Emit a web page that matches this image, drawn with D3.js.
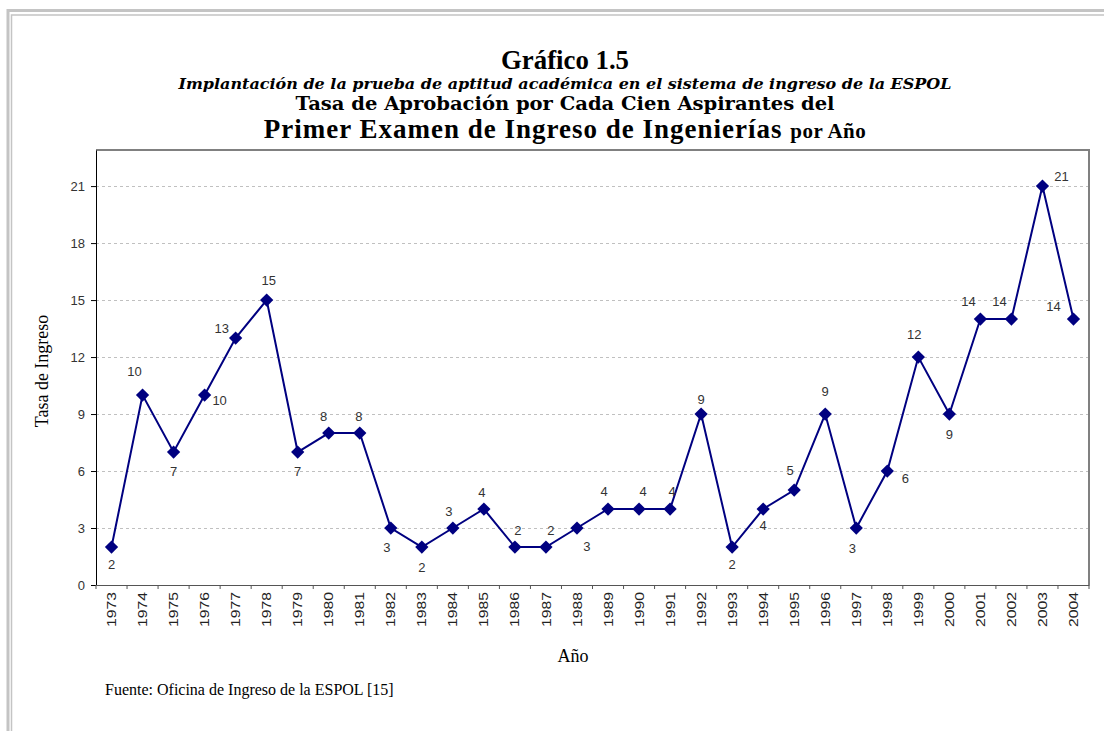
<!DOCTYPE html>
<html>
<head>
<meta charset="utf-8">
<script src="https://cdn.jsdelivr.net/npm/d3@7"></script>
<style>
  body { margin: 0; background: #fff; }
</style>
</head>
<body>
<div id="chart"></div>
<script>
// Data
const years = [1973, 1974, 1975, 1976, 1977, 1978, 1979, 1980, 1981, 1982, 1983,
               1984, 1985, 1986, 1987, 1988, 1989, 1990, 1991, 1992, 1993, 1994,
               1995, 1996, 1997, 1998, 1999, 2000, 2001, 2002, 2003, 2004];
const tasa = [2, 10, 7, 10, 13, 15, 7, 8, 8, 3, 2,
              3, 4, 2, 2, 3, 4, 4, 4, 9, 2, 4,
              5, 9, 3, 6, 12, 9, 14, 14, 21, 14];
const yTicks = [0, 3, 6, 9, 12, 15, 18, 21];

// where each value label sits relative to its marker (dx, dy in px)
const labelOffset = [[0,17],[-8,-24],[0,19],[15,5],[-14,-10],[2,-20],[0,19],[-5,-17],[-1,-17],[-4,19],[0,20],
                     [-4,-17],[-2,-17],[3,-17],[5,-17],[10,18],[-4,-18],[4,-18],[2,-18],[0,-15],[0,17],[0,16],
                     [-4,-20],[0,-23],[-4,20],[18,7],[-4,-23],[0,20],[-12,-18],[-12,-18],[19,-10],[-20,-13]];

const width = 1104;
const height = 731;
const marginLeft = 96;
const marginRight = 1089;
const marginTop = 150;
const plotBottom = 585;

const sans = "'Liberation Sans', Arial, sans-serif";
const serif = "'Liberation Serif', 'Times New Roman', serif";
const wideSerif = "'DejaVu Serif', Georgia, serif";

const svg = d3.create("svg")
    .attr("width", width)
    .attr("height", height)
    .attr("font-family", sans);

// outer page frame
svg.append("rect")
    .attr("x", 8).attr("y", 10.5)
    .attr("width", 1110).attr("height", 760)
    .attr("fill", "none").attr("stroke", "#c4c4c4").attr("stroke-width", 3);
svg.append("rect")
    .attr("x", 11.5).attr("y", 15)
    .attr("width", 1110).attr("height", 760)
    .attr("fill", "none").attr("stroke", "#c4c4c4").attr("stroke-width", 1.5);

// scales
const x = d3.scaleBand(years, [marginLeft, marginRight]).padding(0);
const y = d3.scaleLinear([0, 22.9], [plotBottom, marginTop]);

// grid
svg.append("g")
    .selectAll("line")
    .data(yTicks.filter(d => d > 0))
    .join("line")
    .attr("x1", marginLeft).attr("x2", marginRight)
    .attr("y1", d => Math.round(y(d)) + 0.5).attr("y2", d => Math.round(y(d)) + 0.5)
    .attr("stroke", "#c0c0c0")
    .attr("stroke-dasharray", "3,3");

// frame top / right
svg.append("path")
    .attr("d", `M${marginLeft},${marginTop} H${marginRight} V${plotBottom}`)
    .attr("fill", "none")
    .attr("stroke", "#808080")
    .attr("stroke-width", 2);

// y axis
const yAxis = svg.append("g")
    .attr("transform", `translate(${marginLeft},0)`)
    .call(d3.axisLeft(y).tickValues(yTicks).tickSize(5).tickPadding(6).tickSizeOuter(0));
yAxis.select(".domain").attr("stroke", "#000");
yAxis.selectAll(".tick text")
    .attr("font-size", 13)
    .attr("fill", "#333")
    .attr("font-family", sans);

// x axis
const xAxis = svg.append("g")
    .attr("transform", `translate(0,${plotBottom})`)
    .call(d3.axisBottom(x).tickSize(0).tickSizeOuter(0));
xAxis.select(".domain").attr("stroke", "#555");
xAxis.selectAll(".tick text")
    .attr("font-size", 13)
    .attr("fill", "#222")
    .attr("font-family", sans)
    .attr("transform", "rotate(-90)")
    .attr("text-anchor", "end")
    .attr("x", -7)
    .attr("y", 0)
    .attr("dy", "0.35em")
    .attr("textLength", 35)
    .attr("lengthAdjust", "spacingAndGlyphs");
// tick marks between categories
svg.append("g")
    .selectAll("line")
    .data(years.concat([null]))
    .join("line")
    .attr("x1", (d, i) => marginLeft + i * x.bandwidth())
    .attr("x2", (d, i) => marginLeft + i * x.bandwidth())
    .attr("y1", plotBottom).attr("y2", plotBottom + 4)
    .attr("stroke", "#555");

// line
const pts = years.map((yr, i) => [x(yr) + x.bandwidth() / 2, y(tasa[i])]);
svg.append("path")
    .attr("d", d3.line()(pts))
    .attr("fill", "none")
    .attr("stroke", "#000080")
    .attr("stroke-width", 2);

// diamond markers
svg.append("g")
    .selectAll("path")
    .data(pts)
    .join("path")
    .attr("d", d3.symbol(d3.symbolSquare, 88))
    .attr("transform", d => `translate(${d[0]},${d[1]}) rotate(45)`)
    .attr("fill", "#000080");

// value labels
svg.append("g")
    .selectAll("text")
    .data(pts)
    .join("text")
    .attr("x", (d, i) => d[0] + labelOffset[i][0])
    .attr("y", (d, i) => d[1] + labelOffset[i][1])
    .attr("dy", "0.35em")
    .attr("text-anchor", "middle")
    .attr("font-family", sans)
    .attr("font-size", 13)
    .attr("fill", "#333")
    .text((d, i) => tasa[i]);

// titles
const cx = 565;
svg.append("text")
    .text("Gráfico 1.5")
    .attr("x", cx).attr("y", 69)
    .attr("text-anchor", "middle")
    .attr("font-family", serif)
    .attr("font-weight", "bold")
    .attr("font-size", 27)
    .attr("textLength", 128)
    .attr("lengthAdjust", "spacingAndGlyphs");
svg.append("text")
    .text("Implantación de la prueba de aptitud académica en el sistema de ingreso de la ESPOL")
    .attr("x", cx).attr("y", 89)
    .attr("text-anchor", "middle")
    .attr("font-family", wideSerif)
    .attr("font-weight", "bold")
    .attr("font-style", "italic")
    .attr("font-size", 15)
    .attr("textLength", 773)
    .attr("lengthAdjust", "spacingAndGlyphs");
svg.append("text")
    .text("Tasa de Aprobación por Cada Cien Aspirantes del")
    .attr("x", cx).attr("y", 110)
    .attr("text-anchor", "middle")
    .attr("font-family", wideSerif)
    .attr("font-weight", "bold")
    .attr("font-size", 19)
    .attr("textLength", 539)
    .attr("lengthAdjust", "spacingAndGlyphs");
const t4 = svg.append("text")
    .attr("x", cx).attr("y", 138)
    .attr("text-anchor", "middle")
    .attr("font-family", serif)
    .attr("font-weight", "bold");
t4.append("tspan").attr("font-size", 27).attr("letter-spacing", 1).text("Primer Examen de Ingreso de Ingenierías ");
t4.append("tspan").attr("font-size", 21).attr("letter-spacing", 0.5).text("por Año");

// axis titles
svg.append("text")
    .text("Tasa de Ingreso")
    .attr("transform", "rotate(-90)")
    .attr("x", -371).attr("y", 48)
    .attr("text-anchor", "middle")
    .attr("font-family", serif)
    .attr("font-size", 18);
svg.append("text")
    .text("Año")
    .attr("x", 573).attr("y", 662)
    .attr("text-anchor", "middle")
    .attr("font-family", serif)
    .attr("font-size", 18);

// source
svg.append("text")
    .text("Fuente: Oficina de Ingreso de la ESPOL [15]")
    .attr("x", 105).attr("y", 695)
    .attr("font-family", serif)
    .attr("font-size", 16);

chart.append(svg.node());
</script>
</body>
</html>
